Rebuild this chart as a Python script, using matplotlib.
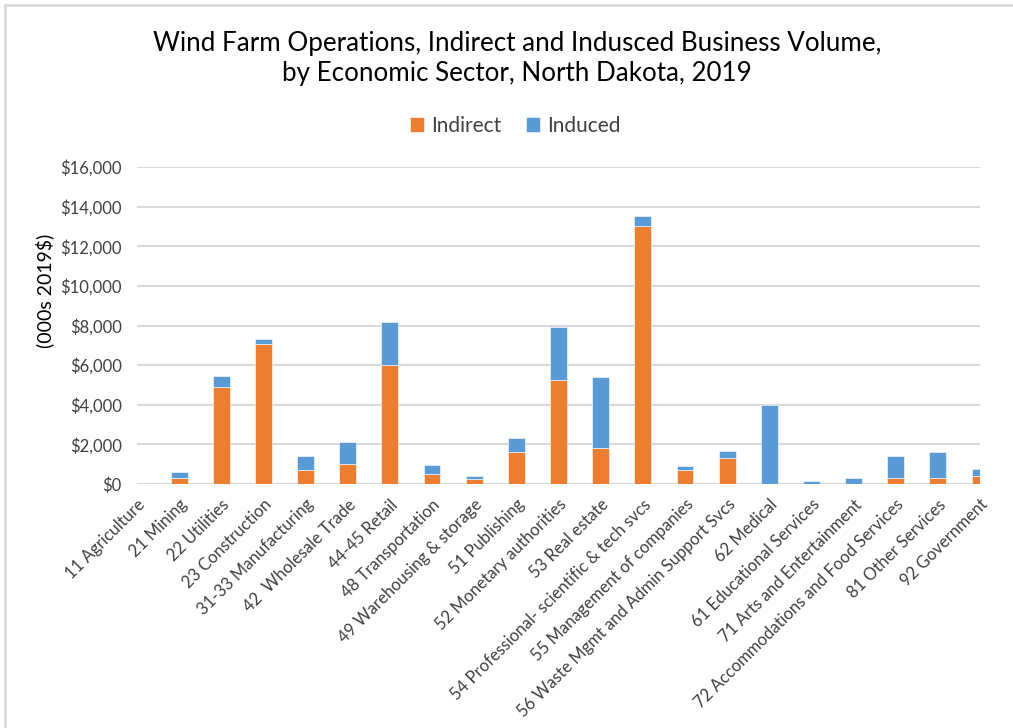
import numpy as np
import matplotlib.pyplot as plt
from matplotlib.ticker import FuncFormatter
from matplotlib.patches import Rectangle

plt.rcParams['font.family'] = ['Lato', 'DejaVu Sans']

sectors = ['11 Agriculture', '21 Mining', '22 Utilities', '23 Construction',
           '31-33 Manufacturing', '42  Wholesale Trade', '44-45 Retail',
           '48 Transportation', '49 Warehousing & storage', '51 Publishing',
           '52 Monetary authorities', '53 Real estate',
           '54 Professional- scientific & tech svcs', '55 Management of companies',
           '56 Waste Mgmt and Admin Support Svcs', '62 Medical',
           '61 Educational Services', '71 Arts and Entertainment',
           '72 Accommodations and Food Services', '81 Other Services',
           '92 Government']
indirect = [10, 300, 4900, 7060, 730, 1030, 6000, 510, 250, 1590,
            5270, 1830, 13000, 710, 1300, 0, 0, 0, 300, 300, 400]
induced = [60, 290, 575, 240, 700, 1080, 2170, 440, 150, 730,
           2650, 3560, 550, 190, 390, 3970, 170, 300, 1130, 1320, 340]

orange = '#ED7D31'
blue = '#5B9BD5'
grid_c = '#D9D9D9'
text_c = '#404040'

W, H = 1013, 728
fig = plt.figure(figsize=(W / 100, H / 100), dpi=100)

# chart frame (top and left edges)
fig.patches.append(Rectangle((5 / W, -0.1), 1.2, (H - 5) / H + 0.1, transform=fig.transFigure,
                             fill=False, edgecolor=grid_c, linewidth=2))

ax = fig.add_axes([137 / W, (H - 484) / H, (980 - 137) / W, (484 - 167) / H])
x = np.arange(len(sectors))
ax.bar(x, indirect, width=0.4, color=orange, edgecolor='white', linewidth=0.4,
       label='Indirect', zorder=3)
ax.bar(x, induced, width=0.4, bottom=indirect, color=blue, edgecolor='white',
       linewidth=0.4, label='Induced', zorder=3)

ax.set_xlim(0, len(sectors) - 1)
ax.set_ylim(0, 16000)
ax.set_yticks(np.arange(0, 16001, 2000))
ax.yaxis.set_major_formatter(FuncFormatter(lambda v, p: f'${v:,.0f}'))
ax.grid(axis='y', color=grid_c, linewidth=1.5, zorder=0)
for s in ax.spines.values():
    s.set_visible(False)
ax.tick_params(axis='both', length=0, colors=text_c)
ax.tick_params(axis='y', pad=11, labelsize=12)
ax.set_xticks(x)
ax.set_xticklabels(sectors, rotation=45, ha='right', rotation_mode='anchor')
ax.tick_params(axis='x', pad=9, labelsize=12)

fig.text(45 / W, 1 - 291 / H, '(000s 2019$)', rotation=90, ha='center', va='center',
         fontsize=14, color='black')

fig.text(517 / W, 1 - 43 / H, 'Wind Farm Operations, Indirect and Indusced Business Volume,',
         ha='center', va='center', fontsize=18.7, color='black')
fig.text(517 / W, 1 - 74 / H, 'by Economic Sector, North Dakota, 2019',
         ha='center', va='center', fontsize=18.7, color='black')

fig.legend(loc='center', bbox_to_anchor=(515 / W, 1 - 126 / H), ncol=2, frameon=False,
           fontsize=15, handlelength=0.7, handleheight=0.7, handletextpad=0.3,
           columnspacing=1.2, labelcolor=text_c)

fig.savefig('out.png', dpi=100)
